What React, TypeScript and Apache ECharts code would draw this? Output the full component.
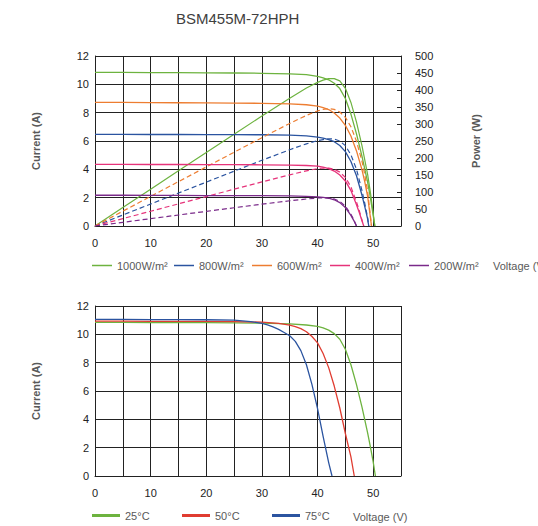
import React, { useEffect, useRef } from "react";
import * as echarts from "echarts";

const FONT = "Liberation Sans, Arial, sans-serif";

// ---------- Top chart: IV and power curves at various irradiances ----------
const irrNames = ["1000W/m²", "800W/m²", "600W/m²", "400W/m²", "200W/m²"];
const irrColors = ["#6DB33F", "#2B54A0", "#ED7D31", "#E6337A", "#7A2A8A"];

const V_g = [0, 5, 10, 15, 20, 25, 30, 35, 38, 40, 41, 42, 43, 44, 45, 46, 47, 48, 49, 49.5, 50, 50.3];
const I_g = [10.85, 10.84, 10.83, 10.82, 10.81, 10.8, 10.78, 10.74, 10.68, 10.56, 10.46, 10.32, 10.08, 9.7, 9.0, 7.9, 6.5, 4.9, 3.1, 2.0, 0.75, 0];
const P_g = [0, 54.2, 108.3, 162.3, 216.2, 270, 323.4, 375.9, 405.8, 422.4, 428.9, 433.4, 433.4, 426.8, 405, 363.4, 305.5, 235.2, 151.9, 99, 37.5, 0];

const V_o = [0, 5, 10, 15, 20, 25, 30, 35, 38, 40, 41, 42, 43, 44, 45, 46, 47, 48, 48.5, 49, 49.7];
const I_o = [8.73, 8.72, 8.71, 8.7, 8.69, 8.68, 8.66, 8.62, 8.56, 8.46, 8.36, 8.22, 7.98, 7.62, 7.1, 6.35, 5.3, 3.95, 3.1, 2.1, 0];
const P_o = [0, 43.6, 87.1, 130.5, 173.8, 217, 259.8, 301.7, 325.3, 338.4, 342.8, 345.2, 343.1, 335.3, 319.5, 292.1, 249.1, 189.6, 150.4, 102.9, 0];

const V_b = [0, 5, 10, 15, 20, 25, 30, 35, 38, 40, 41, 42, 43, 44, 45, 46, 47, 48, 48.5, 49, 49.2];
const I_b = [6.47, 6.47, 6.46, 6.46, 6.45, 6.45, 6.44, 6.41, 6.36, 6.28, 6.2, 6.1, 5.95, 5.68, 5.25, 4.55, 3.55, 2.15, 1.35, 0.5, 0];
const P_b = [0, 32.35, 64.6, 96.9, 129, 161.25, 193.2, 224.35, 241.7, 251.2, 254.2, 256.2, 255.9, 249.9, 236.3, 209.3, 166.9, 103.2, 65.5, 24.5, 0];

const V_p = [0, 5, 10, 15, 20, 25, 30, 35, 38, 40, 41, 42, 43, 44, 45, 46, 47, 47.5, 48, 48.3];
const I_p = [4.35, 4.35, 4.34, 4.34, 4.33, 4.33, 4.32, 4.3, 4.27, 4.22, 4.16, 4.05, 3.88, 3.6, 3.18, 2.5, 1.5, 0.95, 0.35, 0];
const P_p = [0, 21.75, 43.4, 65.1, 86.6, 108.25, 129.6, 150.5, 162.3, 168.8, 170.6, 170.1, 166.8, 158.4, 143.1, 115, 70.5, 45.1, 16.8, 0];

const V_u = [0, 5, 10, 15, 20, 25, 30, 35, 38, 40, 41, 42, 43, 44, 45, 46, 46.5, 47];
const I_u = [2.17, 2.17, 2.16, 2.16, 2.15, 2.15, 2.14, 2.12, 2.09, 2.06, 2.02, 1.96, 1.85, 1.65, 1.3, 0.75, 0.4, 0];
const P_u = [0, 10.85, 21.6, 32.4, 43, 53.75, 64.2, 74.2, 79.4, 82.4, 82.8, 82.3, 79.6, 72.6, 58.5, 34.5, 18.6, 0];

// legend order: green, blue, orange, pink, purple
const topV = [V_g, V_b, V_o, V_p, V_u];
const topI = [I_g, I_b, I_o, I_p, I_u];
const topP = [P_g, P_b, P_o, P_p, P_u];

// ---------- Bottom chart: IV curves at various temperatures ----------
const tempNames = ["25°C", "50°C", "75°C"];
const tempColors = ["#6DB33F", "#E03C31", "#2B54A0"];

const V_25 = [0, 5, 10, 15, 20, 25, 30, 35, 38, 40, 41, 42, 43, 44, 45, 46, 47, 48, 49, 49.5, 50, 50.4];
const I_25 = [10.84, 10.84, 10.83, 10.83, 10.82, 10.81, 10.79, 10.74, 10.66, 10.56, 10.46, 10.3, 10.05, 9.65, 8.95, 7.85, 6.45, 4.85, 3.05, 2.05, 1.0, 0];

const V_50 = [0, 5, 10, 15, 20, 25, 30, 33, 35, 36, 37, 38, 39, 40, 41, 42, 43, 44, 45, 46, 46.6];
const I_50 = [10.93, 10.93, 10.92, 10.92, 10.91, 10.9, 10.86, 10.78, 10.65, 10.54, 10.4, 10.18, 9.85, 9.4, 8.65, 7.65, 6.35, 4.8, 3.0, 1.35, 0];

const V_75 = [0, 5, 10, 15, 20, 25, 28, 30, 31, 32, 33, 34, 35, 36, 37, 38, 39, 40, 41, 42, 42.6];
const I_75 = [11.05, 11.05, 11.04, 11.04, 11.03, 11.0, 10.9, 10.78, 10.67, 10.52, 10.35, 10.13, 9.9, 9.5, 8.85, 7.85, 6.45, 4.75, 2.8, 0.95, 0];

const botV = [V_25, V_50, V_75];
const botI = [I_25, I_50, I_75];

// axis ticks
const xTicks = [0, 10, 20, 30, 40, 50];

const zip = (xs: number[], ys: number[]) => xs.map((x, i) => [x, ys[i]]);

export default function App() {
  const ref = useRef<HTMLDivElement>(null);
  useEffect(() => {
    if (!ref.current) return;
    const chart = echarts.init(ref.current, null, { renderer: "svg" });
    const gridLine = { show: true, lineStyle: { color: "#222", width: 1 } };
    const axisLine = { show: true, lineStyle: { color: "#222", width: 1 } };
    const xAxes = [0, 1].map((g) => ({
      type: "value",
      gridIndex: g,
      min: 0,
      max: 55,
      interval: 5,
      axisLine,
      axisTick: { show: false },
      splitLine: gridLine,
      axisLabel: {
        fontSize: 11,
        color: "#222",
        margin: 11,
        fontFamily: FONT,
        formatter: (v: number) => (xTicks.indexOf(v) >= 0 ? String(v) : ""),
      },
    }));
    const nameStyle = { fontWeight: "bold", fontSize: 11, color: "#595959", fontFamily: FONT };
    const currentAxis = (g: number) => ({
      type: "value",
      gridIndex: g,
      min: 0,
      max: 12,
      interval: 2,
      name: "Current (A)",
      nameLocation: "middle",
      nameRotate: 90,
      nameGap: 54,
      nameTextStyle: nameStyle,
      axisLine,
      axisTick: { show: false },
      splitLine: gridLine,
      axisLabel: { fontSize: 11, color: "#222", margin: 6, fontFamily: FONT },
    });
    const series: any[] = [];
    for (let k = 0; k < 5; k++) {
      series.push({
        name: irrNames[k],
        type: "line",
        xAxisIndex: 0,
        yAxisIndex: 0,
        data: zip(topV[k], topI[k]),
        showSymbol: false,
        symbol: "none",
        smooth: false,
        lineStyle: { color: irrColors[k], width: 1.3 },
        itemStyle: { color: irrColors[k] },
      });
      series.push({
        name: "P " + irrNames[k],
        type: "line",
        xAxisIndex: 0,
        yAxisIndex: 1,
        data: zip(topV[k], topP[k]),
        showSymbol: false,
        symbol: "none",
        smooth: false,
        lineStyle: { color: irrColors[k], width: 1.2, type: k === 0 ? "solid" : [5, 3] },
        itemStyle: { color: irrColors[k] },
      });
    }
    for (let k = 0; k < 3; k++) {
      series.push({
        name: tempNames[k],
        type: "line",
        xAxisIndex: 1,
        yAxisIndex: 2,
        data: zip(botV[k], botI[k]),
        showSymbol: false,
        symbol: "none",
        smooth: false,
        lineStyle: { color: tempColors[k], width: 1.3 },
        itemStyle: { color: tempColors[k] },
      });
    }
    const topLegendX = [92, 174, 252, 330, 409];
    const botLegendX = [92, 182, 272];
    const legendText = { fontSize: 11, color: "#595959", fontFamily: FONT };
    const legends: any[] = [];
    irrNames.forEach((n, i) =>
      legends.push({
        data: [n],
        left: topLegendX[i],
        top: 260,
        padding: 0,
        icon: "rect",
        itemWidth: 20,
        itemHeight: 1.5,
        selectedMode: false,
        textStyle: legendText,
      })
    );
    tempNames.forEach((n, i) =>
      legends.push({
        data: [n],
        left: botLegendX[i],
        top: 510,
        padding: 0,
        icon: "rect",
        itemWidth: 28,
        itemHeight: 3,
        selectedMode: false,
        textStyle: legendText,
      })
    );
    chart.setOption({
      animation: false,
      textStyle: { fontFamily: FONT },
      title: {
        text: "BSM455M-72HPH",
        left: 176,
        top: 11,
        padding: 0,
        textStyle: { fontSize: 15, fontWeight: "normal", color: "#404040", fontFamily: FONT },
      },
      grid: [
        { left: 95, top: 56, width: 306, height: 170 },
        { left: 95, top: 306, width: 306, height: 170 },
      ],
      xAxis: xAxes,
      yAxis: [
        currentAxis(0),
        {
          type: "value",
          gridIndex: 0,
          position: "right",
          min: 0,
          max: 500,
          interval: 50,
          name: "Power (W)",
          nameLocation: "middle",
          nameRotate: 90,
          nameGap: 69,
          nameTextStyle: nameStyle,
          axisLine,
          axisTick: { show: true, inside: true, length: 4, lineStyle: { color: "#222" } },
          splitLine: { show: false },
          axisLabel: { fontSize: 11, color: "#222", margin: 14, fontFamily: FONT },
        },
        currentAxis(1),
      ],
      legend: legends,
      graphic: [
        {
          type: "text",
          x: 493,
          y: 266,
          style: { text: "Voltage (V)", fontSize: 11, fontFamily: FONT, fill: "#595959", verticalAlign: "middle" },
        },
        {
          type: "text",
          x: 353,
          y: 517,
          style: { text: "Voltage (V)", fontSize: 11, fontFamily: FONT, fill: "#595959", verticalAlign: "middle" },
        },
      ],
      series,
    });
    return () => chart.dispose();
  }, []);
  return (
    <div
      ref={ref}
      style={{ position: "absolute", left: 0, top: 0, width: 538, height: 526, background: "#fff" }}
    />
  );
}
